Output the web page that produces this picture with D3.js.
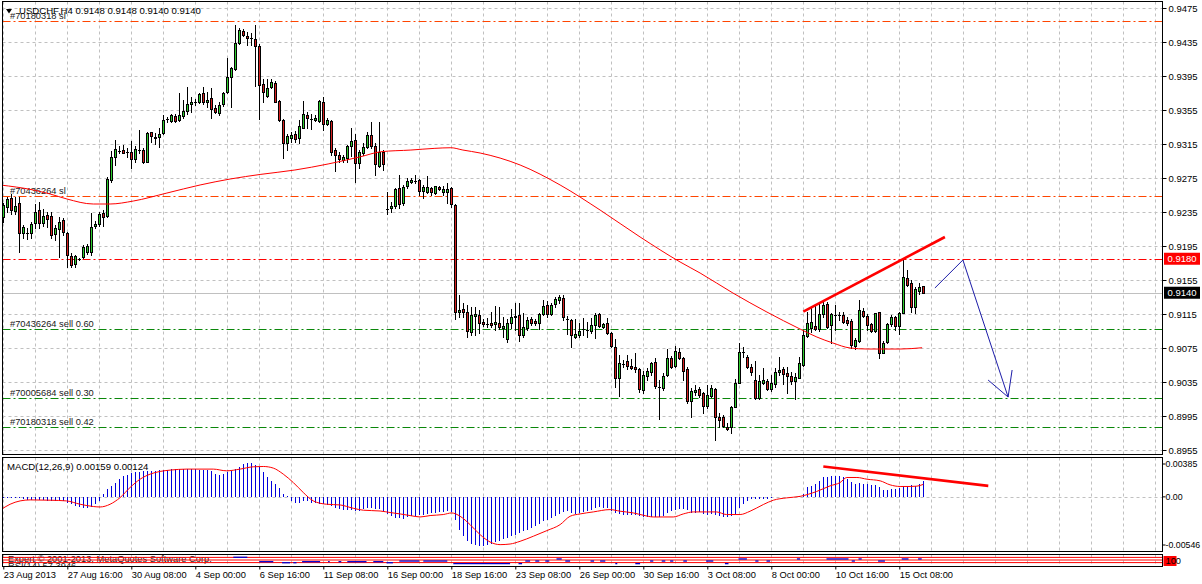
<!DOCTYPE html>
<html>
<head>
<meta charset="utf-8">
<script src="https://cdn.jsdelivr.net/npm/d3@7"></script>
<style>
body { margin: 0; background: #fff; }
svg { display: block; font-family: "Liberation Sans", Arial, sans-serif; font-size: 9.3px; }
</style>
</head>
<body>
<svg id="chart" width="1202" height="584"></svg>
<script>
let symbolName = 'USDCHF,H4'

// H4 bars, [open, high, low, close]
let bars = [
  [0.92295,0.92452,0.92236,0.92433],[0.92413,0.92531,0.92354,0.92503],[0.92519,0.92562,0.92323,0.92374],[0.92366,0.92531,0.92323,0.92421],
  [0.92460,0.92531,0.91884,0.92107],[0.92099,0.92197,0.92048,0.92174],[0.92107,0.92158,0.92033,0.92107],[0.92107,0.92236,0.92048,0.92205],
  [0.92217,0.92444,0.92158,0.92354],[0.92370,0.92464,0.92158,0.92225],[0.92217,0.92382,0.92190,0.92303],[0.92311,0.92354,0.92178,0.92272],
  [0.92299,0.92354,0.92048,0.92080],[0.92088,0.92197,0.92021,0.92158],[0.92146,0.92295,0.91817,0.92236],[0.92252,0.92276,0.92080,0.92111],
  [0.92099,0.92119,0.91707,0.91844],[0.91837,0.91864,0.91699,0.91727],[0.91735,0.91844,0.91699,0.91829],[0.91797,0.91805,0.91786,0.91797],
  [0.91825,0.91962,0.91805,0.91943],[0.91884,0.91970,0.91852,0.91950],[0.91876,0.92339,0.91844,0.92170],[0.92182,0.92244,0.92158,0.92205],
  [0.92205,0.92354,0.92186,0.92323],[0.92335,0.92374,0.92190,0.92295],[0.92307,0.92766,0.92295,0.92739],[0.92727,0.93068,0.92707,0.92994],
  [0.93001,0.93198,0.92903,0.93088],[0.93068,0.93131,0.93041,0.93068],[0.93080,0.93139,0.93041,0.93048],[0.93052,0.93107,0.93001,0.93052],
  [0.93060,0.93186,0.92872,0.92970],[0.92974,0.93131,0.92943,0.93092],[0.93080,0.93315,0.93041,0.93080],[0.93080,0.93100,0.92923,0.92935],
  [0.92943,0.93296,0.92943,0.93276],[0.93288,0.93296,0.93170,0.93241],[0.93233,0.93276,0.93146,0.93217],[0.93229,0.93335,0.93119,0.93268],
  [0.93276,0.93492,0.93264,0.93429],[0.93441,0.93472,0.93413,0.93441],[0.93425,0.93503,0.93405,0.93492],[0.93480,0.93499,0.93405,0.93421],
  [0.93433,0.93746,0.93421,0.93492],[0.93480,0.93668,0.93460,0.93539],[0.93539,0.93821,0.93503,0.93617],[0.93625,0.93707,0.93531,0.93648],
  [0.93641,0.93680,0.93609,0.93641],[0.93648,0.93754,0.93629,0.93735],[0.93746,0.93825,0.93617,0.93641],[0.93648,0.93758,0.93590,0.93672],
  [0.93688,0.93813,0.93460,0.93558],[0.93570,0.93609,0.93511,0.93531],[0.93511,0.93641,0.93492,0.93609],[0.93617,0.93766,0.93601,0.93746],
  [0.93758,0.94158,0.93746,0.93935],[0.93943,0.94060,0.93590,0.94041],[0.94029,0.94550,0.94021,0.94335],[0.94335,0.94511,0.94323,0.94492],
  [0.94480,0.94503,0.94425,0.94433],[0.94421,0.94464,0.94315,0.94393],[0.94401,0.94452,0.94315,0.94401],[0.94382,0.94550,0.93837,0.94307],
  [0.94303,0.94323,0.93444,0.93845],[0.93852,0.93911,0.93648,0.93758],[0.93719,0.93911,0.93707,0.93813],[0.93825,0.93911,0.93813,0.93876],
  [0.93864,0.93892,0.93641,0.93648],[0.93660,0.93668,0.93421,0.93433],[0.93433,0.93444,0.92990,0.93158],[0.93166,0.93264,0.93080,0.93244],
  [0.93225,0.93288,0.93178,0.93256],[0.93268,0.93303,0.93170,0.93209],[0.93225,0.93429,0.93158,0.93358],[0.93343,0.93656,0.93335,0.93503],
  [0.93492,0.93531,0.93335,0.93452],[0.93448,0.93499,0.93327,0.93448],[0.93437,0.93492,0.93421,0.93460],[0.93425,0.93672,0.93413,0.93656],
  [0.93644,0.93707,0.93315,0.93386],[0.93382,0.93452,0.93374,0.93433],[0.93421,0.93433,0.93021,0.93060],[0.93080,0.93107,0.92837,0.93021],
  [0.93021,0.93060,0.92943,0.92974],[0.92962,0.93021,0.92935,0.92994],[0.92982,0.93139,0.92943,0.93127],[0.93131,0.93343,0.93013,0.93186],
  [0.93198,0.93264,0.92707,0.92923],[0.92923,0.93080,0.92872,0.93060],[0.93041,0.93158,0.93021,0.93115],[0.93115,0.93288,0.93100,0.93256],
  [0.93256,0.93405,0.93100,0.93127],[0.93127,0.93158,0.92786,0.92911],[0.92895,0.93413,0.92884,0.93052],[0.93060,0.93080,0.92845,0.92911],
  [0.92382,0.92590,0.92327,0.92382],[0.92393,0.92472,0.92346,0.92421],[0.92425,0.92637,0.92401,0.92621],[0.92629,0.92786,0.92393,0.92441],
  [0.92452,0.92668,0.92433,0.92648],[0.92660,0.92746,0.92629,0.92719],[0.92707,0.92754,0.92688,0.92731],[0.92719,0.92786,0.92688,0.92719],
  [0.92727,0.92739,0.92550,0.92601],[0.92601,0.92668,0.92511,0.92641],[0.92582,0.92778,0.92570,0.92641],[0.92637,0.92648,0.92550,0.92582],
  [0.92570,0.92660,0.92562,0.92652],[0.92644,0.92660,0.92609,0.92617],[0.92590,0.92660,0.92550,0.92617],[0.92582,0.92688,0.92452,0.92621],
  [0.92637,0.92648,0.92413,0.92441],[0.92433,0.92441,0.91092,0.91170],[0.91170,0.91374,0.91119,0.91197],[0.91205,0.91275,0.91119,0.91170],
  [0.91170,0.91256,0.90883,0.90954],[0.90942,0.91236,0.90903,0.91138],[0.91126,0.91236,0.90903,0.91150],[0.91142,0.91197,0.90930,0.91040],
  [0.91052,0.91087,0.91009,0.91032],[0.91036,0.91099,0.91001,0.91036],[0.91044,0.91177,0.91001,0.91021],[0.91028,0.91244,0.90962,0.91056],
  [0.91040,0.91236,0.90970,0.90993],[0.90981,0.91119,0.90883,0.91009],[0.90852,0.91087,0.90824,0.91040],[0.91048,0.91205,0.90981,0.91111],
  [0.91111,0.91275,0.90962,0.91126],[0.91138,0.91283,0.90836,0.90899],[0.90899,0.91158,0.90883,0.90993],[0.90981,0.91119,0.90962,0.91076],
  [0.91087,0.91111,0.91021,0.91048],[0.91068,0.91087,0.91021,0.91040],[0.91048,0.91166,0.90970,0.91150],[0.91150,0.91315,0.91138,0.91244],
  [0.91256,0.91307,0.91119,0.91150],[0.91150,0.91283,0.91138,0.91256],[0.91264,0.91354,0.91236,0.91322],[0.91315,0.91373,0.91275,0.91354],
  [0.91334,0.91373,0.91080,0.91111],[0.91095,0.91126,0.90915,0.91095],[0.91080,0.91087,0.90766,0.90903],[0.90883,0.91087,0.90864,0.90915],
  [0.90903,0.91040,0.90883,0.90950],[0.90970,0.91099,0.90903,0.90970],[0.90962,0.91060,0.90883,0.90962],[0.90950,0.91099,0.90922,0.91017],
  [0.91021,0.91158,0.90864,0.91138],[0.91146,0.91166,0.91001,0.91013],[0.91001,0.91048,0.90981,0.91028],[0.91040,0.91099,0.90915,0.90930],
  [0.90922,0.90942,0.90766,0.90773],[0.90766,0.90852,0.90295,0.90401],[0.90393,0.90668,0.90185,0.90570],[0.90562,0.90609,0.90523,0.90562],
  [0.90597,0.90668,0.90499,0.90538],[0.90538,0.90617,0.90499,0.90511],[0.90523,0.90687,0.90472,0.90499],[0.90499,0.90511,0.90236,0.90264],
  [0.90256,0.90483,0.90225,0.90428],[0.90425,0.90511,0.90374,0.90479],[0.90464,0.90589,0.90432,0.90570],[0.90581,0.90628,0.90276,0.90303],
  [0.90295,0.90374,0.89911,0.90295],[0.90276,0.90452,0.90256,0.90425],[0.90432,0.90738,0.90421,0.90636],[0.90636,0.90656,0.90519,0.90530],
  [0.90542,0.90773,0.90523,0.90715],[0.90699,0.90746,0.90617,0.90636],[0.90628,0.90648,0.90374,0.90483],[0.90499,0.90523,0.90107,0.90127],
  [0.90127,0.90276,0.89934,0.90244],[0.90228,0.90315,0.90197,0.90256],[0.90264,0.90287,0.90178,0.90197],[0.90217,0.90236,0.89981,0.90068],
  [0.90068,0.90315,0.90040,0.90197],[0.90189,0.90315,0.90178,0.90275],[0.90264,0.90275,0.89667,0.89934],[0.89942,0.89989,0.89824,0.89903],
  [0.89942,0.89962,0.89817,0.89836],[0.89824,0.89864,0.89785,0.89797],[0.89817,0.90068,0.89754,0.90060],[0.90060,0.90381,0.90052,0.90342],
  [0.90342,0.90805,0.90334,0.90699],[0.90699,0.90766,0.90640,0.90699],[0.90648,0.90668,0.90511,0.90530],[0.90530,0.90562,0.90432,0.90472],
  [0.90374,0.90601,0.90146,0.90158],[0.90158,0.90432,0.90146,0.90362],[0.90342,0.90511,0.90326,0.90374],[0.90366,0.90381,0.90256,0.90264],
  [0.90268,0.90432,0.90248,0.90342],[0.90326,0.90511,0.90295,0.90464],[0.90472,0.90648,0.90432,0.90491],[0.90499,0.90530,0.90326,0.90440],
  [0.90460,0.90522,0.90217,0.90420],[0.90424,0.90472,0.90326,0.90366],[0.90366,0.90452,0.90146,0.90405],[0.90401,0.90640,0.90393,0.90570],
  [0.90550,0.90962,0.90538,0.90903],[0.90895,0.91177,0.90875,0.91048],[0.90981,0.91244,0.90942,0.91060],[0.91009,0.91256,0.90962,0.90970],
  [0.90970,0.91268,0.90954,0.91150],[0.91150,0.91295,0.91119,0.91256],[0.91268,0.91295,0.90981,0.91001],[0.91021,0.91166,0.90813,0.91150],
  [0.91138,0.91256,0.90962,0.91138],[0.91138,0.91177,0.91079,0.91138],[0.91138,0.91177,0.91048,0.91060],[0.91079,0.91119,0.91021,0.91048],
  [0.91068,0.91087,0.90746,0.90785],[0.90777,0.90864,0.90734,0.90844],[0.90832,0.91315,0.90824,0.91197],[0.91185,0.91217,0.91111,0.91126],
  [0.91126,0.91150,0.90962,0.91021],[0.91028,0.91048,0.90942,0.90954],[0.90954,0.91166,0.90942,0.91158],[0.91169,0.91177,0.90628,0.90687],
  [0.90695,0.90836,0.90687,0.90813],[0.90824,0.91040,0.90805,0.91028],[0.91028,0.91138,0.91009,0.91119],[0.91119,0.91126,0.90962,0.91009],
  [0.91009,0.91177,0.90915,0.91166],[0.91166,0.91785,0.91158,0.91581],[0.91570,0.91668,0.91479,0.91491],[0.91511,0.91550,0.91177,0.91236],
  [0.91236,0.91472,0.91158,0.91440],[0.91424,0.91519,0.91385,0.91464],[0.9148,0.9148,0.9140,0.9140]
]

// moving average, read at these bar positions
let maBars = [-0.8, 7.5, 11.7, 15.9, 22.5, 26.7, 32.5, 40.9, 49.2, 56.7, 64.4, 72.9, 81.2, 89.4, 94.4, 101.9, 107.9, 111.9, 114.9,
  119.2, 129.2, 139.2, 149.2, 159.2, 169.2, 174.2, 182.4, 190.9, 199.2, 203.4, 207.4, 211.7, 216, 224.2, 229.7]
let maValues = [0.92668, 0.92609, 0.92562, 0.92503, 0.92444, 0.92444, 0.92479, 0.92573, 0.92668, 0.92738, 0.92793, 0.92844, 0.92915,
  0.93001, 0.93059, 0.93079, 0.93099, 0.93106, 0.93079, 0.93044, 0.92903, 0.92668, 0.92373, 0.92056, 0.91762, 0.91632, 0.91397,
  0.91173, 0.90973, 0.90879, 0.90809, 0.90750, 0.90738, 0.90738, 0.90753]

// MACD(12,26,9) main, one per bar
let macdMain = [
  -0.0001,-0.00007,-0.00007,-0.0001,-0.00013,-0.00026,-0.0003,-0.00033,-0.00033,-0.00033,-0.00033,-0.00036,-0.0004,-0.0004,-0.0004,-0.00043,
  -0.00056,-0.00073,-0.00089,-0.00099,-0.00106,-0.00113,-0.00099,-0.00073,-0.0004,0.00026,0.00076,0.00109,0.00142,0.00175,0.00202,0.00218,
  0.00232,0.00242,0.00242,0.00252,0.00252,0.00258,0.00258,0.00265,0.00265,0.00268,0.00275,0.00275,0.00275,0.00275,0.00275,0.00275,
  0.00275,0.00271,0.00271,0.00265,0.00252,0.00225,0.00218,0.00225,0.00242,0.00258,0.00275,0.00298,0.00324,0.00334,0.00334,0.00318,
  0.00291,0.00242,0.00192,0.00159,0.00126,0.00083,0.00026,0.0001,-0.0004,-0.00056,-0.00056,-0.0004,-0.0004,-0.00056,-0.00056,-0.00066,
  -0.00073,-0.00079,-0.00089,-0.00106,-0.00122,-0.00132,-0.00132,-0.00132,-0.00139,-0.00139,-0.00122,-0.00113,-0.00113,-0.00116,-0.00122,-0.00139,
  -0.00172,-0.00189,-0.00205,-0.00209,-0.00215,-0.00202,-0.00192,-0.00185,-0.00175,-0.00175,-0.00169,-0.00162,-0.00159,-0.00149,-0.00149,-0.00142,
  -0.00149,-0.00225,-0.00324,-0.00391,-0.00434,-0.00467,-0.0048,-0.0049,-0.0049,-0.0048,-0.00467,-0.00447,-0.00434,-0.00414,-0.00407,-0.00391,
  -0.00381,-0.00357,-0.00341,-0.00324,-0.00308,-0.00291,-0.00268,-0.00242,-0.00225,-0.00209,-0.00192,-0.00169,-0.00149,-0.00142,-0.00159,-0.00169,
  -0.00159,-0.00149,-0.00142,-0.00126,-0.00109,-0.00103,-0.00109,-0.00109,-0.00136,-0.00159,-0.00169,-0.00175,-0.00182,-0.00182,-0.00182,-0.00192,
  -0.00202,-0.00202,-0.00202,-0.00202,-0.00202,-0.00192,-0.00159,-0.00136,-0.00126,-0.00116,-0.00116,-0.00126,-0.00159,-0.00159,-0.00149,-0.00169,
  -0.00175,-0.00169,-0.00182,-0.00192,-0.00202,-0.00202,-0.00192,-0.00169,-0.00109,-0.0007,-0.00036,-0.00026,-0.00026,-0.00026,-0.0002,-0.0002,
  -0.0001,-0.00003,-0.00003,0.00001,0.00001,0.00002,0.00003,0.0001,0.00026,0.00093,0.00109,0.00132,0.00159,0.00192,0.00199,0.00202,
  0.00209,0.00205,0.00192,0.00175,0.00152,0.00132,0.00142,0.00132,0.00132,0.00119,0.00119,0.00093,0.00066,0.0007,0.00076,0.00076,
  0.00086,0.00109,0.00109,0.00116,0.00109,0.00126,0.00159
]

// MACD signal line, read at these bar positions
let signalBars = [-0.8, 1.7, 4.2, 6.7, 11.7, 15.8, 19.2, 22.6, 24.2, 26.7, 29.2, 31.7, 34.2, 36.7, 39.2, 41.7, 45.9, 52.5, 55.8, 59.2,
  62.5, 65, 67.5, 70, 72.5, 75, 77.5, 80.8, 84.2, 87.5, 90, 94.2, 96.7, 99.2, 101.7, 104.2, 106.7, 110, 112.1, 114.2, 116.7, 119.2,
  121.7, 124.2, 126.7, 129.2, 132.5, 135.9, 139.2, 141.7, 144.2, 147.5, 151.7, 154.2, 157.5, 160, 162.5, 167.5, 170, 172.5, 175.8,
  178.3, 180.8, 184.2, 186.7, 190, 192.5, 195.8, 199.2, 203.3, 206.7, 209.2, 210.9, 213.4, 215.9, 219.2, 221.7, 224.2, 226.7, 228.4, 230]
let signalValues = [-0.00132, -0.00073, -0.0004, -0.0003, -0.00033, -0.0004, -0.00073, -0.00096, -0.001, -0.00073, -0.00007, 0.00093,
  0.00175, 0.00225, 0.00252, 0.00265, 0.00275, 0.00275, 0.00258, 0.00275, 0.00298, 0.00301, 0.00285, 0.00225, 0.00142, 0.00043,
  -0.0004, -0.00073, -0.0008, -0.00113, -0.00132, -0.0014, -0.00155, -0.00169, -0.00185, -0.00199, -0.00185, -0.00175, -0.00159,
  -0.00192, -0.00275, -0.00374, -0.00447, -0.00473, -0.00467, -0.0044, -0.0039, -0.00334, -0.00275, -0.00192, -0.00169, -0.00149,
  -0.00126, -0.00142, -0.00159, -0.00182, -0.00199, -0.00199, -0.00169, -0.00149, -0.00149, -0.00149, -0.00175, -0.00175, -0.00142,
  -0.00076, -0.00033, -0.0001, 0.00005, 0.00053, 0.00109, 0.00142, 0.00192, 0.00192, 0.00175, 0.00159, 0.00119, 0.00103, 0.00103,
  0.00106, 0.00124]

// RSI(14) pieces visible in the thin bottom window: [from bar, to bar, value]
let rsiPieces = [
  [57.5,61,71],[64,67.5,37],[69.7,71.7,29],[72.5,73.3,29],[74.7,79.2,37],[81.2,81.6,37],[83.8,84.5,37],[86,90.8,37],[92.5,95,37],
  [95.8,97.4,29],[99,104,42],[105,111,42],[112.5,126.7,22],[128.8,129.7,22],[130.5,131.7,42],[133,134,42],[135.5,136.5,42],
  [138.3,139.6,58],[140.5,141.7,42],[146.8,147.7,42],[149.2,150.5,42],[153,153.5,22],[158,159.2,22],[161.7,162.5,42],[164.6,165.5,42],
  [166.7,167.5,42],[170,170.9,42],[175.7,177.5,42],[180.4,181.3,22],[183.8,185.9,58],[188,188.8,42],[190.8,191.7,42],[198.4,199.2,58],
  [205.8,211.3,58],[212.1,212.9,42],[213.8,214.6,58],[218.7,220.4,42],[224.6,226.3,58],[228.7,229.6,58]
]
let rsiLevels = [30, 50, 70]

let priceTicks = [0.8955, 0.8995, 0.9035, 0.9075, 0.9115, 0.9155, 0.9195, 0.9235, 0.9275, 0.9315, 0.9355, 0.9395, 0.9435, 0.9475]
let macdTicks = [-0.00546, 0, 0.00385]
let macdTickLabels = ['-0.00546', '0.00', '0.00385']
let timeTickBars = [0, 16, 32, 48, 64, 80, 96, 112, 128, 144, 160, 176, 192, 208, 224]
let timeLabels = ['23 Aug 2013', '27 Aug 16:00', '30 Aug 08:00', '4 Sep 00:00', '6 Sep 16:00', '11 Sep 08:00', '16 Sep 00:00',
  '18 Sep 16:00', '23 Sep 08:00', '26 Sep 00:00', '30 Sep 16:00', '3 Oct 08:00', '8 Oct 00:00', '10 Oct 16:00', '15 Oct 08:00']

let orderLevels = [0.9460, 0.9254, 0.9180, 0.9097, 0.9016, 0.8982]
let orderLabels = ['#70180318 sl', '#70436264 sl', '', '#70436264 sell 0.60', '#70005684 sell 0.30', '#70180318 sell 0.42']
let orderKinds = ['sl', 'sl', 'alert', 'sell', 'sell', 'sell']
let alertPrice = 0.9180
let bidPrice = 0.9140

let trendBars = [200, 235.4]
let trendPrices = [0.91177, 0.92056]
let macdTrendBars = [205, 246.25]
let macdTrendValues = [0.00301, 0.00109]
let arrowBars = [232.9, 239.9, 251.2]
let arrowPrices = [0.91456, 0.91785, 0.90173]
let headBars = [246.2, 251.2, 252.2]
let headPrices = [0.90373, 0.90173, 0.90491]

let kindColor = { sl: '#ff4500', alert: '#ff0000', sell: '#0a870a' }

let svg = d3.select('#chart')
let left = 2.5, right = 1162.5
let pTop = 1.5, pBot = 454.5, mTop = 457.5, mBot = 551.5, rTop = 554.5, rBot = 566.5

let x = d3.scaleLinear().domain([0, 290]).range([3.3, 1163.3])
let yP = d3.scaleLinear().domain([0.8955, 0.9475]).range([450, 8])
let yM = d3.scaleLinear().domain([-0.00546, 0.00385]).range([552, 458])
let yR = d3.scaleLinear().domain([0, 100]).range([566.5, 553.5])
let px = (i) => Math.round(x(i)) + 0.5
let snap = (v) => Math.round(v) + 0.5

let defs = svg.append('defs')
let clips = [['clipP', pTop, pBot], ['clipM', mTop, mBot], ['clipR', rTop, rBot]]
clips.forEach(([id, t, b]) => {
  defs.append('clipPath').attr('id', id).append('rect')
      .attr('x', left + 0.5).attr('y', t + 0.5).attr('width', right - left - 1).attr('height', b - t - 1)
})

let priceG = svg.append('g').attr('clip-path', 'url(#clipP)')
let macdG = svg.append('g').attr('clip-path', 'url(#clipM)')
let rsiG = svg.append('g').attr('clip-path', 'url(#clipR)')

// grid
let gridBars = d3.range(0, 290, 8)
let panels = [[priceG, pTop, pBot], [macdG, mTop, mBot], [rsiG, rTop, rBot]]
panels.forEach(([g, t, b]) => {
  g.append('g').selectAll('line').data(gridBars).enter().append('line')
      .attr('x1', (d) => px(d)).attr('x2', (d) => px(d)).attr('y1', t).attr('y2', b)
      .attr('stroke', '#c0c0c0').attr('stroke-dasharray', '3,3')
})
priceG.append('g').selectAll('line').data(priceTicks).enter().append('line')
    .attr('x1', left).attr('x2', right).attr('y1', (d) => snap(yP(d))).attr('y2', (d) => snap(yP(d)))
    .attr('stroke', '#c0c0c0').attr('stroke-dasharray', '3,3')
macdG.append('line').attr('x1', left).attr('x2', right).attr('y1', snap(yM(0))).attr('y2', snap(yM(0)))
    .attr('stroke', '#c0c0c0').attr('stroke-dasharray', '3,3')

// bid line
priceG.append('line').attr('x1', left).attr('x2', right)
    .attr('y1', snap(yP(bidPrice))).attr('y2', snap(yP(bidPrice)))
    .attr('stroke', '#c0c0c0')

// order lines
priceG.append('g').selectAll('line').data(orderLevels).enter().append('line')
    .attr('x1', left).attr('x2', right).attr('y1', (d) => snap(yP(d))).attr('y2', (d) => snap(yP(d)))
    .attr('stroke', (d, i) => kindColor[orderKinds[i]])
    .attr('stroke-width', 1.2)
    .attr('stroke-dasharray', '8,3,2,3')
priceG.append('g').selectAll('text').data(orderLevels).enter().append('text')
    .attr('x', 10).attr('y', (d) => yP(d) - 2)
    .attr('fill', '#1a1a1a')
    .text((d, i) => orderLabels[i])

// candles
let candle = priceG.append('g').selectAll('g').data(bars).enter().append('g')
candle.append('line')
    .attr('x1', (d, i) => px(i)).attr('x2', (d, i) => px(i))
    .attr('y1', (d) => Math.round(yP(d[1]))).attr('y2', (d) => Math.round(yP(d[2])) + 1)
    .attr('stroke', '#000')
candle.append('rect')
    .attr('x', (d, i) => px(i) - 1).attr('width', 2)
    .attr('y', (d) => snap(yP(Math.max(d[0], d[3]))))
    .attr('height', (d) => Math.max(0.01, Math.round(yP(Math.min(d[0], d[3]))) - Math.round(yP(Math.max(d[0], d[3])))))
    .attr('fill', (d) => d[3] >= d[0] ? '#2ecc2e' : '#d42020')
    .attr('stroke', '#000')

// moving average
let maLine = d3.line().x((d) => x(d[0])).y((d) => yP(d[1])).curve(d3.curveMonotoneX)
priceG.append('path').datum(maBars.map((b, i) => [b, maValues[i]]))
    .attr('d', maLine).attr('fill', 'none').attr('stroke', '#ff0000').attr('stroke-width', 1)

// trend line and arrow
priceG.append('line')
    .attr('x1', x(trendBars[0])).attr('y1', yP(trendPrices[0]))
    .attr('x2', x(trendBars[1])).attr('y2', yP(trendPrices[1]))
    .attr('stroke', '#ff0000').attr('stroke-width', 2.6)
let plainLine = d3.line().x((d) => x(d[0])).y((d) => yP(d[1]))
priceG.append('path').datum(arrowBars.map((b, i) => [b, arrowPrices[i]]))
    .attr('d', plainLine).attr('fill', 'none').attr('stroke', '#1c1ca8').attr('stroke-width', 1)
priceG.append('path').datum(headBars.map((b, i) => [b, headPrices[i]]))
    .attr('d', plainLine).attr('fill', 'none').attr('stroke', '#1c1ca8').attr('stroke-width', 1)

// MACD
macdG.append('g').selectAll('line').data(macdMain).enter().append('line')
    .attr('x1', (d, i) => px(i)).attr('x2', (d, i) => px(i))
    .attr('y1', Math.round(yM(0))).attr('y2', (d) => Math.round(yM(d)))
    .attr('stroke', '#0000dd')
let sigLine = d3.line().x((d) => x(d[0])).y((d) => yM(d[1])).curve(d3.curveMonotoneX)
macdG.append('path').datum(signalBars.map((b, i) => [b, signalValues[i]]))
    .attr('d', sigLine).attr('fill', 'none').attr('stroke', '#ff0000').attr('stroke-width', 1)
macdG.append('line')
    .attr('x1', x(macdTrendBars[0])).attr('y1', yM(macdTrendValues[0]))
    .attr('x2', x(macdTrendBars[1])).attr('y2', yM(macdTrendValues[1]))
    .attr('stroke', '#ff0000').attr('stroke-width', 2.6)

// RSI window
rsiG.append('text').attr('x', 8).attr('y', 568.5).attr('fill', '#1a1a1a').text('RSI(14) 57.3946')
rsiG.append('text').attr('x', 8).attr('y', 562.3).attr('fill', '#1a1a1a').text('Expert \u00a9 2001-2013, MetaQuotes Software Corp.')
rsiG.append('g').selectAll('line').data(rsiLevels).enter().append('line')
    .attr('x1', left).attr('x2', right).attr('y1', (d) => yR(d)).attr('y2', (d) => yR(d))
    .attr('stroke', '#ff0000').attr('stroke-width', 1)
rsiG.append('g').selectAll('line').data(rsiPieces).enter().append('line')
    .attr('x1', (d) => x(d[0])).attr('x2', (d) => x(d[1])).attr('y1', (d) => yR(d[2])).attr('y2', (d) => yR(d[2]))
    .attr('stroke', '#0000cc').attr('stroke-width', 1.3)

// panel frames
let frames = [[pTop, pBot], [mTop, mBot], [rTop, rBot]]
svg.append('g').selectAll('rect').data(frames).enter().append('rect')
    .attr('x', left).attr('y', (d) => d[0]).attr('width', right - left).attr('height', (d) => d[1] - d[0])
    .attr('fill', 'none').attr('stroke', '#000')

// right axes
let axisFont = '"Liberation Sans", Arial, sans-serif'
let priceAxis = d3.axisRight(yP).tickValues(priceTicks).tickFormat(d3.format('.4f')).tickSize(4).tickPadding(2)
let pa = svg.append('g').attr('transform', 'translate(' + right + ',0)').call(priceAxis)
pa.select('.domain').remove()
pa.selectAll('text').attr('fill', '#000').style('font-size', '9.5px').style('font-family', axisFont)

let macdAxis = d3.axisRight(yM).tickValues(macdTicks).tickFormat((d, i) => macdTickLabels[i]).tickSize(3).tickPadding(0)
let ma = svg.append('g').attr('transform', 'translate(' + right + ',0)').call(macdAxis)
ma.select('.domain').remove()
ma.selectAll('.tick').attr('transform', (d) => 'translate(0,' + (yM(d) + (d > 0 ? 6 : d < 0 ? -7 : 0)) + ')')
ma.selectAll('text').attr('fill', '#000').style('font-size', '8.8px').style('font-family', axisFont)

// price markers
let markers = [[alertPrice, '#ff0000'], [bidPrice, '#000']]
markers.forEach(([p, c]) => {
  let yy = yP(p)
  svg.append('rect').attr('x', right + 1.5).attr('y', yy - 6).attr('width', 36).attr('height', 12).attr('fill', c)
  svg.append('text').attr('x', right + 5).attr('y', yy).attr('dy', '0.35em').attr('fill', '#fff')
      .style('font-size', '9.5px').text(d3.format('.4f')(p))
})

// RSI corner label
svg.append('rect').attr('x', right + 1).attr('y', 556).attr('width', 13).attr('height', 10).attr('fill', '#ff0000')
svg.append('text').attr('x', right + 3).attr('y', 561).attr('dy', '0.35em').attr('fill', '#000').text('100')

// time axis
let timeAxis = d3.axisBottom(x).tickValues(timeTickBars).tickFormat((d, i) => timeLabels[i]).tickSize(3).tickPadding(2)
let ta = svg.append('g').attr('transform', 'translate(0,' + rBot + ')').call(timeAxis)
ta.select('.domain').remove()
ta.selectAll('text').attr('text-anchor', 'start').attr('x', 0).attr('fill', '#000')
    .style('font-size', '9.3px').style('font-family', axisFont)

// titles
let last = bars[bars.length - 1]
svg.append('path').attr('d', 'M6,9 L12,9 L9,13.5 Z').attr('fill', '#000')
svg.append('text').attr('x', 19).attr('y', 14).attr('fill', '#000').style('font-size', '9.6px')
    .text(symbolName + '  ' + last.map((v) => v.toFixed(4)).join(' '))
svg.append('text').attr('x', 7).attr('y', 470).attr('fill', '#000').style('font-size', '9.6px')
    .text('MACD(12,26,9) ' + macdMain[macdMain.length - 1].toFixed(5) + ' ' + signalValues[signalValues.length - 1].toFixed(5))
</script>
</body>
</html>
